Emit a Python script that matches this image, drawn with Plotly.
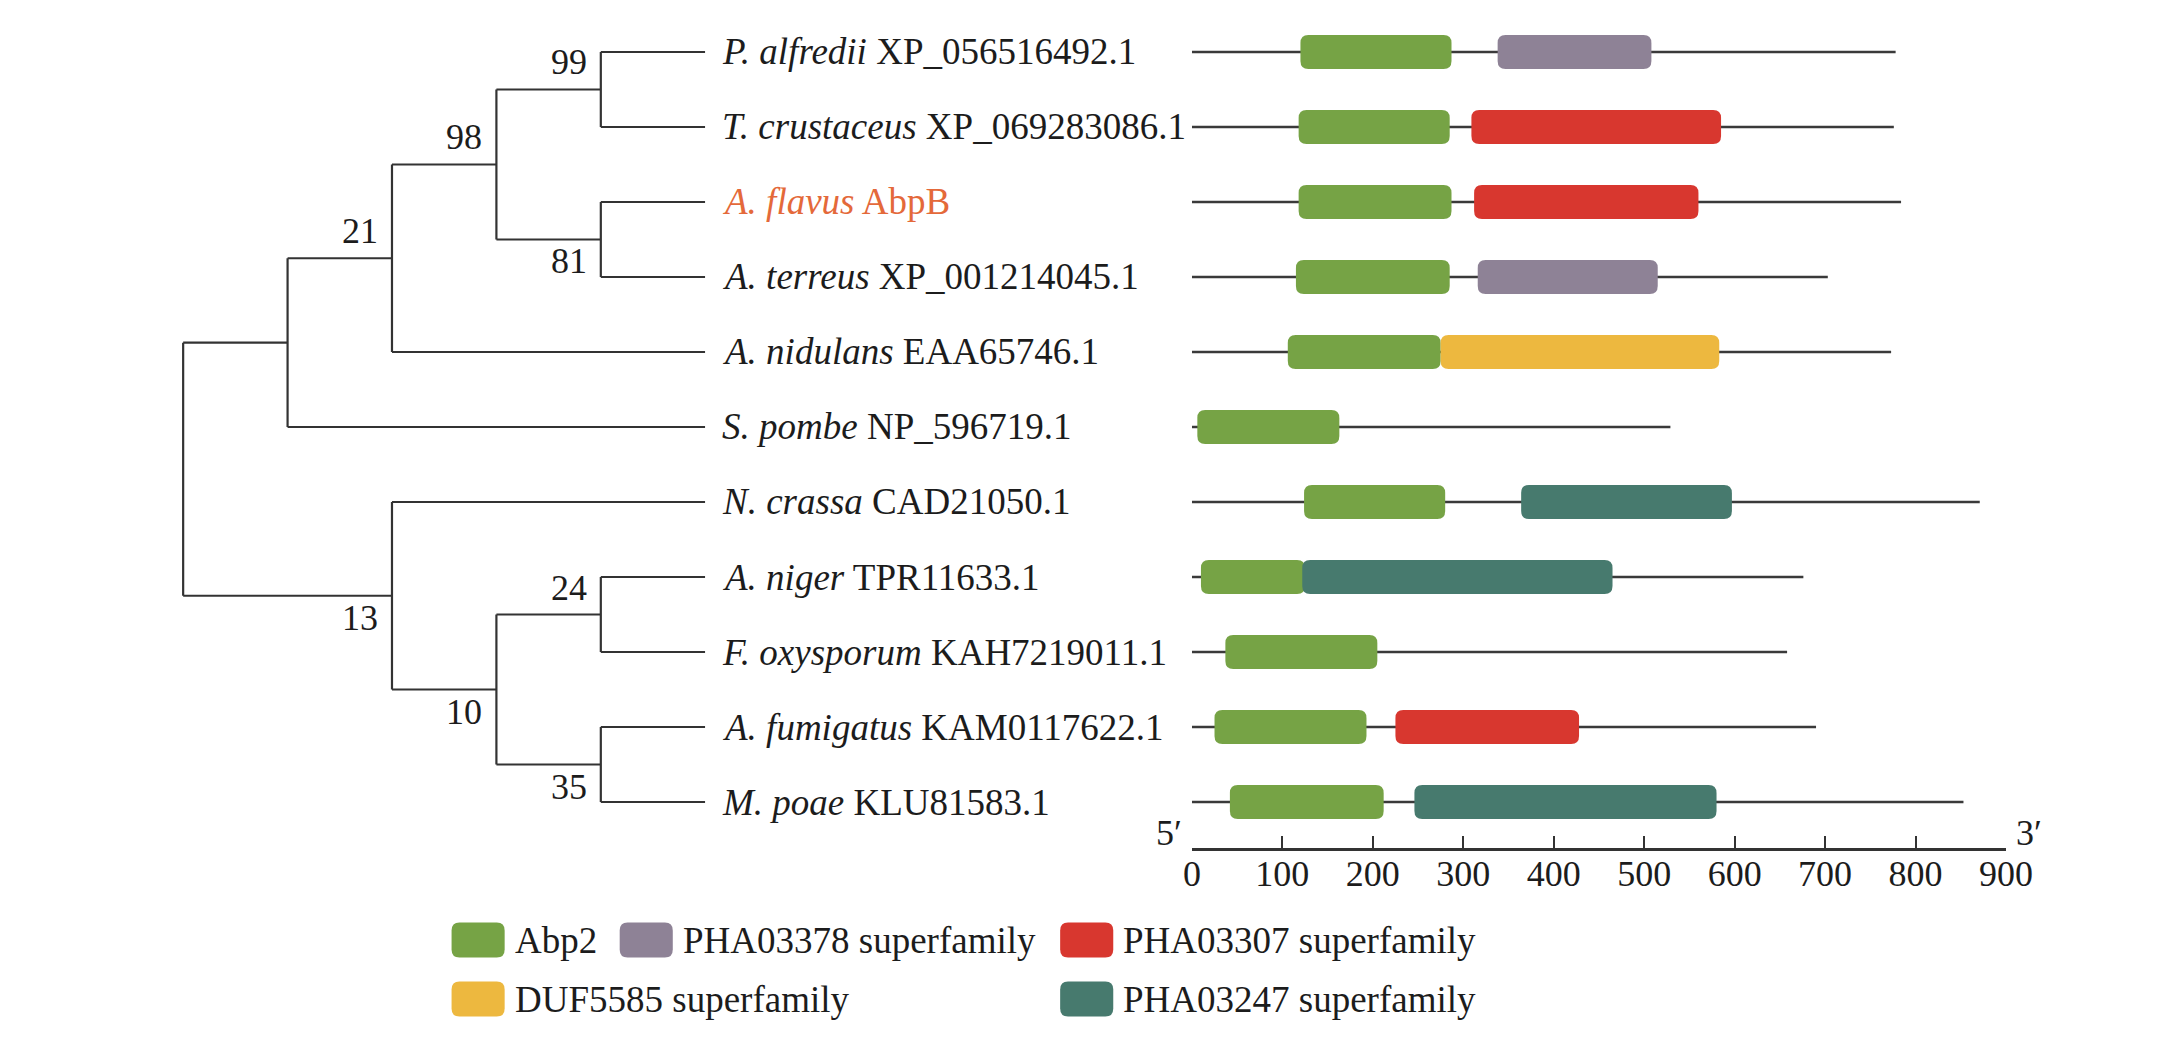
import plotly.graph_objects as go

# leaves from top to bottom
species = ["P. alfredii", "T. crustaceus", "A. flavus", "A. terreus", "A. nidulans",
           "S. pombe", "N. crassa", "A. niger", "F. oxysporum", "A. fumigatus", "M. poae"]
accessions = ["XP_056516492.1", "XP_069283086.1", "AbpB", "XP_001214045.1", "EAA65746.1",
              "NP_596719.1", "CAD21050.1", "TPR11633.1", "KAH7219011.1", "KAM0117622.1",
              "KLU81583.1"]
query = "A. flavus"
protein_len = [778, 776, 784, 703, 773, 529, 871, 676, 658, 690, 853]

# topology, leaf numbers index the lists above, node labels = bootstrap
newick = "(((((0,1)99,(2,3)81)98,4)21,5),(6,((7,8)24,(9,10)35)10)13);"

# conserved domains: row, family, start, end (aa)
dom_row = [0, 0, 1, 1, 2, 2, 3, 3, 4, 4, 5, 6, 6, 7, 7, 8, 9, 9, 10, 10]
dom_family = ["Abp2", "PHA03378", "Abp2", "PHA03307", "Abp2", "PHA03307", "Abp2", "PHA03378",
              "Abp2", "DUF5585", "Abp2", "Abp2", "PHA03247", "Abp2", "PHA03247", "Abp2",
              "Abp2", "PHA03307", "Abp2", "PHA03247"]
dom_start = [120, 338, 118, 309, 118, 312, 115, 316, 106, 275, 6, 124, 364, 10, 122, 37,
             25, 225, 42, 246]
dom_end = [287, 508, 285, 585, 287, 560, 285, 515, 275, 583, 163, 280, 597, 125, 465, 205,
           193, 428, 212, 580]

families = ["Abp2", "PHA03378", "PHA03307", "DUF5585", "PHA03247"]
family_names = ["Abp2", "PHA03378 superfamily", "PHA03307 superfamily",
                "DUF5585 superfamily", "PHA03247 superfamily"]
family_colors = ["#76A345", "#8E8296", "#D8372F", "#EDB83F", "#477A6E"]

ticks = [0, 100, 200, 300, 400, 500, 600, 700, 800, 900]

# ---- page geometry (px on the page) ----
W, H = 2157, 1042
OFF = 8                      # default body margin around the plot div
FW, FH = W - 2 * OFF, H - 2 * OFF
TREE_X0, TREE_X1 = 177, 708
ROW0_Y, ROW_STEP = 52, 75
AX_X0, AX_X1 = 1203, 2031
AX_Y = 849
BOX_H = 34
RADIUS = 8
FONT = "Liberation Serif, Times New Roman, serif"
FS = 37        # names and legend
FS_NUM = 36    # bootstrap values and scale
INK = "#1c1c1c"
LINE = "#333333"

# legend grid positions (px): swatch left, row centre
leg_x = [450, 621, 1069, 450, 1069]
leg_y = [940, 940, 940, 999, 999]
SW_W, SW_H = 54, 35


def px(x):
    return (x - OFF) / FW


def py(y):
    return 1 - (y - OFF) / FH


def parse(s):
    pos = 0

    def node():
        nonlocal pos
        kids = []
        if s[pos] == "(":
            pos += 1
            kids.append(node())
            while s[pos] == ",":
                pos += 1
                kids.append(node())
            pos += 1
        start = pos
        while s[pos] not in ",);":
            pos += 1
        return {"kids": kids, "label": s[start:pos]}

    return node()


def height(n):
    return 0 if not n["kids"] else 1 + max(height(k) for k in n["kids"])


root = parse(newick)
max_h = height(root)


def place(n):
    for k in n["kids"]:
        place(k)
    if n["kids"]:
        n["y"] = (n["kids"][0]["y"] + n["kids"][-1]["y"]) / 2
    else:
        n["y"] = int(n["label"])
    n["x"] = max_h - height(n)


place(root)

tx, ty = [], []
support = []  # (x, y, text, above?)


def walk(n):
    if not n["kids"]:
        return
    tx.extend([n["x"], n["x"], None])
    ty.extend([n["kids"][0]["y"], n["kids"][-1]["y"], None])
    for i, k in enumerate(n["kids"]):
        tx.extend([n["x"], k["x"], None])
        ty.extend([k["y"], k["y"], None])
        if k["kids"] and k["label"]:
            support.append((k["x"], k["y"], k["label"], i == 0))
        walk(k)


walk(root)

n_rows = len(species)
fig = go.Figure()

fig.add_trace(go.Scatter(x=tx, y=ty, mode="lines", xaxis="x", yaxis="y",
                         line=dict(color=LINE, width=2.2), hoverinfo="skip"))

# protein backbones
bx, by = [], []
for i, L in enumerate(protein_len):
    bx.extend([0, L, None])
    by.extend([i, i, None])
fig.add_trace(go.Scatter(x=bx, y=by, mode="lines", xaxis="x2", yaxis="y",
                         line=dict(color="#3a3a3a", width=2.5), hoverinfo="skip"))


def rounded(x0, x1, y0, y1, rx, ry):
    return (f"M {x0 + rx},{y0} L {x1 - rx},{y0} Q {x1},{y0} {x1},{y0 + ry} "
            f"L {x1},{y1 - ry} Q {x1},{y1} {x1 - rx},{y1} L {x0 + rx},{y1} "
            f"Q {x0},{y1} {x0},{y1 - ry} L {x0},{y0 + ry} Q {x0},{y0} {x0 + rx},{y0} Z")


px_per_aa = (AX_X1 - AX_X0) / (ticks[-1] - ticks[0])
shapes = []
for r, f, s, e in zip(dom_row, dom_family, dom_start, dom_end):
    hh = BOX_H / 2 / ROW_STEP
    shapes.append(dict(type="path", xref="x2", yref="y",
                       path=rounded(s, e, r - hh, r + hh, RADIUS / px_per_aa,
                                    RADIUS / ROW_STEP),
                       fillcolor=family_colors[families.index(f)], line=dict(width=0),
                       layer="above"))

annotations = []
for i, (sp, acc) in enumerate(zip(species, accessions)):
    col = "#E4693A" if sp == query else INK
    annotations.append(dict(x=max_h, y=i, xref="x", yref="y", xanchor="left",
                            yanchor="middle", xshift=15, showarrow=False,
                            text=f"<i>{sp}</i> {acc}",
                            font=dict(family=FONT, size=FS, color=col)))

for x, y, txt, above in support:
    annotations.append(dict(x=x, y=y, xref="x", yref="y", xanchor="right",
                            yanchor="middle", xshift=-12, yshift=27 if above else -22,
                            showarrow=False, text=txt,
                            font=dict(family=FONT, size=FS_NUM, color=INK)))

# 5' / 3' ends of the scale
annotations.append(dict(x=ticks[0], y=py(833), xref="x2", yref="paper", xanchor="right",
                        yanchor="middle", xshift=-8, showarrow=False, text="5′",
                        font=dict(family=FONT, size=FS_NUM, color=INK)))
annotations.append(dict(x=ticks[-1], y=py(833), xref="x2", yref="paper", xanchor="left",
                        yanchor="middle", xshift=8, showarrow=False, text="3′",
                        font=dict(family=FONT, size=FS_NUM, color=INK)))

# legend
for name, colr, lx, ly in zip(family_names, family_colors, leg_x, leg_y):
    x0, x1 = px(lx), px(lx + SW_W)
    y0, y1 = py(ly + SW_H / 2), py(ly - SW_H / 2)
    shapes.append(dict(type="path", xref="paper", yref="paper",
                       path=rounded(x0, x1, y0, y1, RADIUS / FW, RADIUS / FH),
                       fillcolor=colr, line=dict(width=0)))
    annotations.append(dict(x=x1, y=py(ly), xref="paper", yref="paper", xanchor="left",
                            yanchor="middle", xshift=8, showarrow=False, text=name,
                            font=dict(family=FONT, size=FS, color=INK)))

y_top = ROW0_Y - ROW_STEP / 2
y_bot = ROW0_Y + (n_rows - 0.5) * ROW_STEP
# pad the tree axis a little on the left so the root line is not clipped
step = (TREE_X1 - TREE_X0) / max_h
pad = 0.2

fig.update_layout(
    width=FW, height=FH,
    margin=dict(l=0, r=0, t=0, b=0, pad=0),
    paper_bgcolor="white", plot_bgcolor="white",
    showlegend=False,
    shapes=shapes, annotations=annotations,
    xaxis=dict(domain=[px(TREE_X0 - pad * step), px(TREE_X1)], range=[-pad, max_h],
               visible=False, anchor="y"),
    xaxis2=dict(domain=[px(AX_X0), px(AX_X1)], range=[ticks[0], ticks[-1]], anchor="free",
                position=py(AX_Y), showline=True, linecolor=LINE, linewidth=2.5,
                ticks="inside", ticklen=12, tickwidth=2, tickcolor=LINE,
                tickvals=ticks[1:], showticklabels=False, showgrid=False, zeroline=False),
    xaxis3=dict(overlaying="x2", range=[ticks[0], ticks[-1]], anchor="free",
                position=py(AX_Y), showline=False, ticks="", tickvals=ticks,
                ticktext=[str(t) for t in ticks], showgrid=False, zeroline=False,
                tickfont=dict(family=FONT, size=FS_NUM, color=INK)),
    yaxis=dict(domain=[py(y_bot), py(y_top)], range=[n_rows - 0.5, -0.5],
               visible=False),
)
# invisible point so the tick-label axis is drawn
fig.add_trace(go.Scatter(x=[ticks[0]], y=[0], xaxis="x3", yaxis="y", mode="markers",
                         marker=dict(opacity=0), hoverinfo="skip"))

fig.write_html("out.html")
